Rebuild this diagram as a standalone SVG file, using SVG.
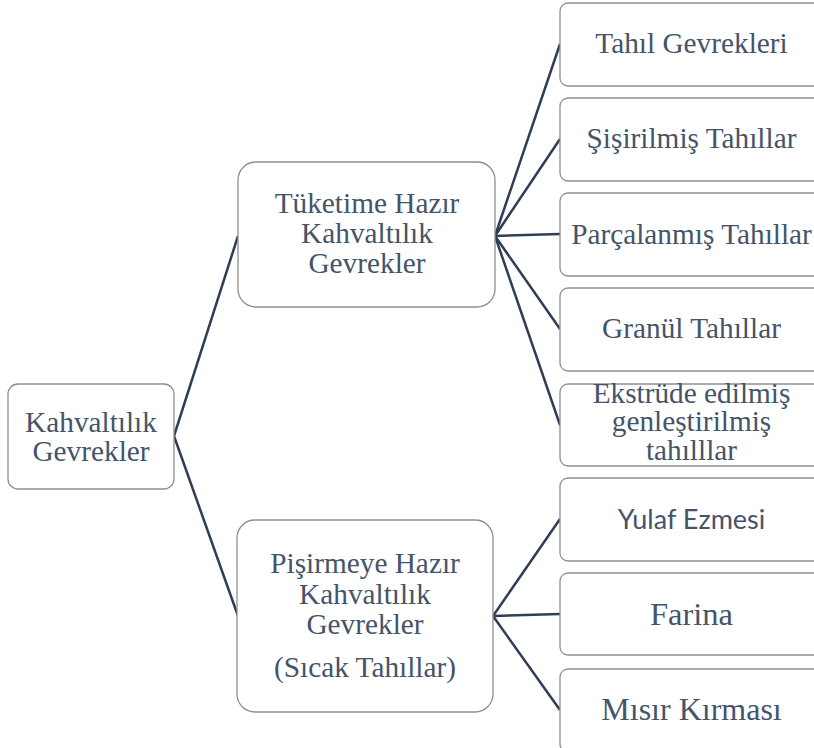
<svg xmlns="http://www.w3.org/2000/svg" width="814" height="748" viewBox="0 0 814 748">
<style>
.box{fill:#ffffff;stroke:#8f8f8f;stroke-width:1.3}
text.t{font-family:'Liberation Serif','DejaVu Serif',serif;font-size:29.3px;fill:#44546A;text-anchor:middle}
text.s{font-family:Lato,'Noto Sans',sans-serif;font-size:27px;fill:#44546A;text-anchor:middle}
.c{fill:none;stroke:#2F3E56;stroke-width:2.5;stroke-linejoin:round}
</style>
<rect width="814" height="748" fill="#ffffff"/>
<g id="connectors">
<polyline class="c" points="238,236 174,436 238,616"/>
<line class="c" x1="495" y1="236" x2="560" y2="44"/>
<line class="c" x1="495" y1="236" x2="560" y2="139"/>
<line class="c" x1="495" y1="236" x2="560" y2="234"/>
<line class="c" x1="495" y1="236" x2="560" y2="329"/>
<line class="c" x1="495" y1="236" x2="560" y2="425"/>
<line class="c" x1="493" y1="616" x2="560" y2="519"/>
<line class="c" x1="493" y1="616" x2="560" y2="614"/>
<line class="c" x1="493" y1="616" x2="560" y2="710"/>
</g>
<g id="root">
<rect class="box" x="8" y="384" width="166" height="105" rx="10"/>
<text class="t" x="91" y="432">Kahvaltılık</text>
<text class="t" x="91" y="461">Gevrekler</text>
</g>
<g id="tuketime">
<rect class="box" x="238" y="162" width="257" height="145" rx="18"/>
<text class="t" x="367" y="213">Tüketime Hazır</text>
<text class="t" x="367" y="243">Kahvaltılık</text>
<text class="t" x="367" y="273">Gevrekler</text>
</g>
<g id="pisirmeye">
<rect class="box" x="237" y="520" width="256" height="192" rx="18"/>
<text class="t" x="365" y="573">Pişirmeye Hazır</text>
<text class="t" x="365" y="604">Kahvaltılık</text>
<text class="t" x="365" y="634">Gevrekler</text>
<text class="t" x="365" y="677">(Sıcak Tahıllar)</text>
</g>
<g id="tahil">
<rect class="box" x="560" y="3" width="263" height="83" rx="8"/>
<text class="t" x="691.5" y="53">Tahıl Gevrekleri</text>
</g>
<g id="sisirilmis">
<rect class="box" x="560" y="98" width="263" height="83" rx="8"/>
<text class="t" x="691.5" y="148">Şişirilmiş Tahıllar</text>
</g>
<g id="parcalanmis">
<rect class="box" x="560" y="193" width="263" height="83" rx="8"/>
<text class="t" x="691.5" y="244">Parçalanmış Tahıllar</text>
</g>
<g id="granul">
<rect class="box" x="560" y="288" width="263" height="83" rx="8"/>
<text class="t" x="691.5" y="338">Granül Tahıllar</text>
</g>
<g id="ekstrude">
<rect class="box" x="560" y="384" width="263" height="82" rx="8"/>
<text class="t" x="691.5" y="403">Ekstrüde edilmiş</text>
<text class="t" x="691.5" y="431">genleştirilmiş</text>
<text class="t" x="691.5" y="460">tahılllar</text>
</g>
<g id="yulaf">
<rect class="box" x="560" y="478" width="263" height="83" rx="8"/>
<text class="s" x="691.5" y="529">Yulaf Ezmesi</text>
</g>
<g id="farina">
<rect class="box" x="560" y="573" width="263" height="82" rx="8"/>
<text class="t" x="691.5" y="625" style="font-size:32.5px">Farina</text>
</g>
<g id="misir">
<rect class="box" x="560" y="669" width="263" height="83" rx="8"/>
<text class="t" x="691.5" y="720" style="font-size:32px">Mısır Kırması</text>
</g>
</svg>
